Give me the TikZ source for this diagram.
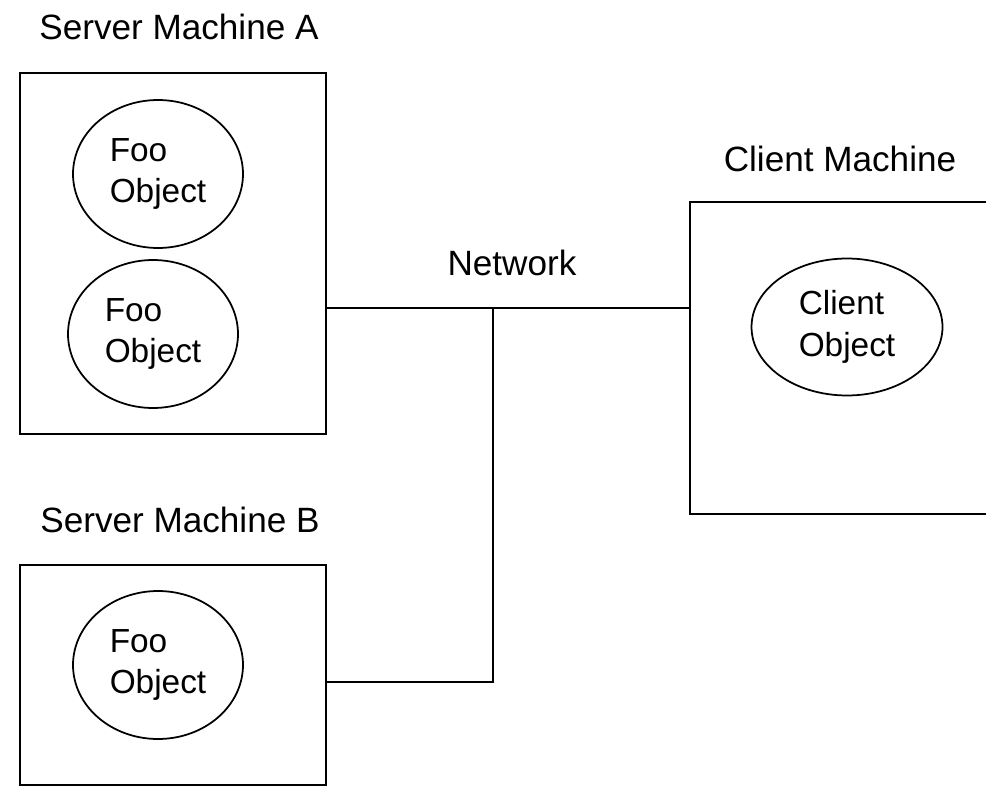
\documentclass[tikz,border=0pt]{standalone}
\usepackage{fontspec}
\setmainfont{Liberation Sans}
\usetikzlibrary{shapes.geometric}

\tikzset{
	machine/.style = {draw, line width = 1.1pt, rectangle, inner sep = 0pt},
	object/.style = {draw, line width = 1pt, ellipse, inner sep = 0pt, align = left,
		font = \fontsize{19}{23.5}\selectfont},
	caption/.style = {anchor = base, font = \fontsize{20}{24}\selectfont}
}

\begin{document}

\begin{tikzpicture}[x = 0.02cm, y = -0.02cm]

	\useasboundingbox (0, 0) rectangle (986, 787);
	\clip (0, 0) rectangle (986, 787);

	% Server machine A
	
	\node [caption] (labA) at (179, 40) {Server Machine A};
	\node [machine, minimum width = 6.12cm, minimum height = 7.22cm] (boxA) at (173, 253.5) {};
	\node [object, minimum width = 3.4cm, minimum height = 2.96cm] (fooA) at (158, 174) {Foo\\Object};
	\node [object, minimum width = 3.4cm, minimum height = 2.96cm] (fooAA) at (153, 334) {Foo\\Object};
	
	% Server machine B
	
	\node [caption] (labB) at (180, 532) {Server Machine B};
	\node [machine, minimum width = 6.12cm, minimum height = 4.4cm] (boxB) at (173, 675) {};
	\node [object, minimum width = 3.4cm, minimum height = 2.96cm] (fooB) at (158, 665) {Foo\\Object};
	
	% Client machine
	
	\node [caption] (labC) at (840, 172) {Client Machine};
	\node [machine, minimum width = 8.2cm, minimum height = 6.24cm] (boxC) at (895, 358) {};
	\node [object, minimum width = 3.82cm, minimum height = 2.74cm] (client) at (847, 327) {Client\\Object};
	
	% Network
	
	\coordinate (tee) at (493, 308);
	\coordinate (bend) at (493, 682);
	\node [caption] (net) at (512, 275) {Network};
	\draw [line width = 1.1pt] (boxA.east |- tee) -- (boxC.west |- tee);
	\draw [line width = 1.1pt] (tee) -- (bend) -- (boxB.east |- bend);

\end{tikzpicture}

\end{document}
